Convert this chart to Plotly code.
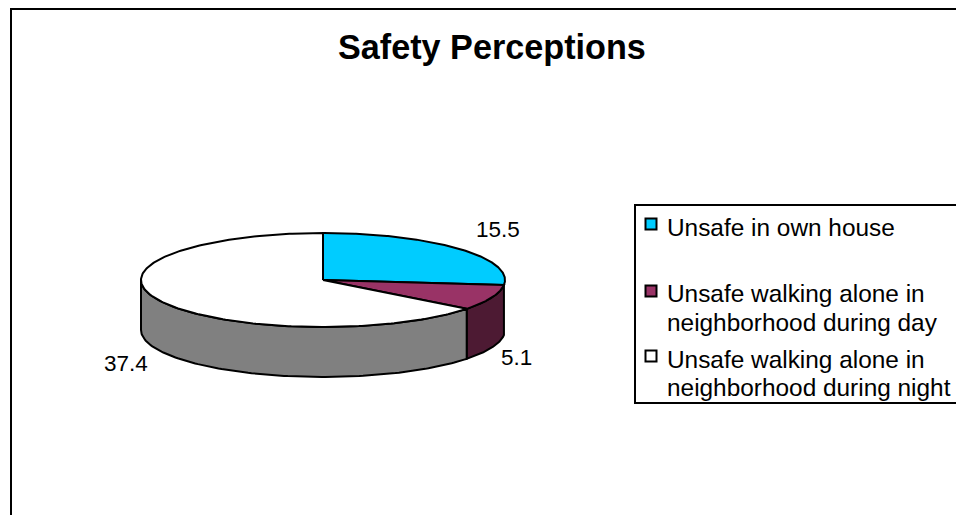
import numpy as np
import plotly.graph_objects as go

# --- data ---
title_text = "Safety Perceptions"
categories = ["Unsafe in own house",
              "Unsafe walking alone in\nneighborhood during day",
              "Unsafe walking alone in\nneighborhood during night"]
values = [15.5, 5.1, 37.4]

# --- styles ---
top_colors = ["#00CCFF", "#993366", "#FFFFFF"]
side_colors = ["#006680", "#4D1A33", "#808080"]
FONT = "Liberation Sans, Arial, sans-serif"
W, H = 956, 515
CX, CY, RX, RY, DEPTH = 323, 280, 182, 47, 50
label_pos = [(498, 229), (516, 357), (126, 363)]
legend_swatch_y = [224, 291, 356]
legend_line_y = [[227], [293, 322], [359, 387]]


def ell(a, dy=0.0):
    a = np.radians(a)
    return CX + RX * np.sin(a), CY + dy + RY * -np.cos(a)


fig = go.Figure()
ang = np.concatenate([[0], np.cumsum(values) / np.sum(values) * 360])

# side walls (only the front half, 90..270 deg clockwise from the top, is visible)
for i in range(len(values)):
    a0, a1 = max(ang[i], 90), min(ang[i + 1], 270)
    if a1 <= a0 or a1 - a0 < 10:
        continue
    t = np.linspace(a0, a1, 120)
    x1, y1 = ell(t)
    x2, y2 = ell(t[::-1], DEPTH)
    fig.add_trace(go.Scatter(x=np.r_[x1, x2, x1[0]], y=np.r_[y1, y2, y1[0]], mode="lines",
                             fill="toself", fillcolor=side_colors[i],
                             line=dict(color="black", width=2), hoverinfo="skip"))

# top faces
for i in range(len(values)):
    t = np.linspace(ang[i], ang[i + 1], 240)
    x, y = ell(t)
    fig.add_trace(go.Scatter(x=np.r_[CX, x, CX], y=np.r_[CY, y, CY], mode="lines",
                             fill="toself", fillcolor=top_colors[i],
                             line=dict(color="black", width=2), hoverinfo="skip"))

# legend swatches
fig.add_trace(go.Scatter(x=[651] * 3, y=legend_swatch_y, mode="markers",
                         marker=dict(symbol="square", size=11, color=top_colors,
                                     line=dict(color="black", width=2)),
                         hoverinfo="skip"))

ann = []
for v, (lx, ly) in zip(values, label_pos):
    ann.append(dict(x=lx, y=ly, text=str(v), showarrow=False, xanchor="center", yanchor="middle",
                    font=dict(family=FONT, size=22.5, color="black")))
for cat, ys in zip(categories, legend_line_y):
    for line, ly in zip(cat.split("\n"), ys):
        ann.append(dict(x=664.5, y=ly, text=line, showarrow=False, xanchor="left", yanchor="middle",
                        font=dict(family=FONT, size=24.4, color="black")))
ann.append(dict(x=492, y=47, text="<b>%s</b>" % title_text, showarrow=False, xanchor="center",
                yanchor="middle", font=dict(family=FONT, size=34.2, color="black")))

shapes = [
    dict(type="line", x0=11, x1=W + 5, y0=9, y1=9, line=dict(color="black", width=2)),
    dict(type="line", x0=11, x1=11, y0=8, y1=H + 5, line=dict(color="black", width=2)),
    dict(type="rect", x0=635, x1=W + 5, y0=205, y1=403, line=dict(color="black", width=2),
         fillcolor="white", layer="below"),
]

fig.update_layout(
    width=W, height=H, margin=dict(l=0, r=0, t=0, b=0), showlegend=False,
    paper_bgcolor="white", plot_bgcolor="white",
    xaxis=dict(range=[0, W], visible=False, fixedrange=True),
    yaxis=dict(range=[H, 0], visible=False, fixedrange=True),
    annotations=ann, shapes=shapes,
)
fig.write_html("out.html", config={"displayModeBar": False},
               post_script="document.body.style.margin='0';document.body.style.overflow='hidden';")
